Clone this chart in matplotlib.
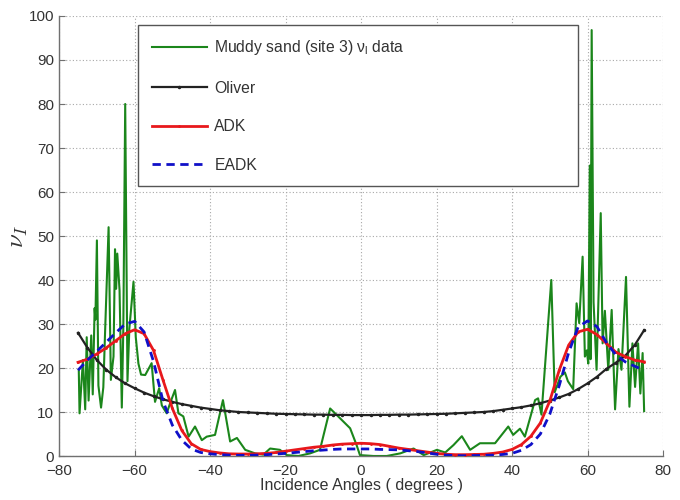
import matplotlib
matplotlib.use("Agg")
import matplotlib.pyplot as plt

plt.rcParams['font.family'] = ['Liberation Sans', 'DejaVu Sans']
plt.rcParams['mathtext.fontset'] = 'cm'

# ---- data ----
data_x = [-74.8, -74.6, -73.7, -73.1, -72.7, -72.2, -71.5, -71.1, -70.6, -70.4,
          -70.0, -69.6, -68.9, -68.3, -67.8, -66.9, -66.3, -65.6, -65.2, -64.9,
          -64.6, -64.0, -63.4, -63.0, -62.5, -61.9, -61.4, -60.3, -59.7, -59.0,
          -58.3, -57.2, -55.5, -54.6, -53.5, -52.8, -51.5, -50.6, -49.3, -48.4,
          -47.1, -45.7, -44.0, -42.2, -40.9, -38.7, -36.6, -34.7, -32.9, -30.7,
          -28.1, -25.9, -24.1, -21.5, -19.7, -16.6, -13.5, -10.9, -8.2, -5.6,
          -2.9, -1.2, -0.3, 3.3, 6.8, 10.4, 13.9, 16.6, 20.1, 22.3,
          24.5, 26.7, 28.9, 31.5, 35.5, 39.0, 40.3, 42.1, 43.4, 46.1,
          46.9, 47.8, 50.4, 51.3, 52.8, 54.0, 54.8, 56.2, 57.1, 57.8,
          58.7, 59.3, 59.8, 60.2, 60.6, 60.8, 61.1, 61.6, 62.4, 63.5,
          64.0, 64.6, 65.5, 66.4, 67.3, 68.2, 69.0, 70.2, 71.1, 71.9,
          72.6, 73.4, 74.0, 74.6, 75.0]
data_y = [19.5, 9.7, 21.8, 10.6, 27.0, 12.6, 27.4, 14.0, 33.6, 31.0,
          49.0, 16.0, 11.0, 15.6, 29.0, 52.0, 17.3, 22.6, 47.0, 38.0,
          46.0, 37.7, 11.0, 29.0, 80.0, 17.0, 29.0, 39.6, 27.0, 21.0,
          18.5, 18.4, 21.1, 12.3, 15.4, 11.5, 9.7, 12.0, 15.0, 9.7,
          9.0, 4.4, 6.7, 3.6, 4.4, 4.8, 12.7, 3.3, 4.1, 1.4,
          0.6, 0.3, 1.7, 1.4, 0.2, 0.0, 0.6, 1.4, 10.8, 8.6,
          6.3, 2.5, 0.2, 0.0, 0.0, 0.6, 1.7, 0.2, 1.4, 0.8,
          2.5, 4.5, 1.4, 2.9, 2.9, 6.7, 4.8, 6.2, 4.4, 12.7,
          13.1, 9.4, 40.0, 14.5, 18.0, 19.0, 17.0, 15.2, 34.7, 30.2,
          45.3, 22.6, 24.0, 21.0, 66.0, 22.0, 96.8, 35.0, 19.6, 55.2,
          25.6, 33.0, 19.6, 33.2, 10.6, 24.3, 19.6, 40.7, 11.2, 25.6,
          15.7, 25.6, 14.2, 23.4, 10.2]

model_x = [-75, -72.5, -70, -67.5, -65, -62.5, -60, -57.5, -55, -52.5, -50,
           -47.5, -45, -42.5, -40, -37.5, -35, -32.5, -30, -27.5, -25, -22.5,
           -20, -17.5, -15, -12.5, -10, -7.5, -5, -2.5, 0, 2.5, 5, 7.5, 10,
           12.5, 15, 17.5, 20, 22.5, 25, 27.5, 30, 32.5, 35, 37.5, 40, 42.5,
           45, 47.5, 50, 52.5, 55, 57.5, 60, 62.5, 65, 67.5, 70, 72.5, 75]
oliver_y = [28.0, 24.6, 21.8, 19.6, 17.9, 16.5, 15.4, 14.4, 13.6, 12.9, 12.3,
            11.8, 11.4, 11.0, 10.7, 10.4, 10.2, 10.0, 9.9, 9.8, 9.7, 9.6,
            9.55, 9.5, 9.45, 9.4, 9.4, 9.35, 9.35, 9.3, 9.3, 9.3, 9.35, 9.35, 9.4,
            9.4, 9.45, 9.5, 9.55, 9.6, 9.7, 9.8, 9.9, 10.0, 10.2, 10.5, 10.8, 11.1,
            11.5, 12.0, 12.6, 13.3, 14.1, 15.2, 16.5, 18.0, 19.8, 21.2, 22.8, 25.2, 28.6]
adk_y = [21.3, 22.0, 23.2, 24.6, 26.2, 27.8, 28.7, 27.8, 24.0, 17.3, 10.8,
         5.8, 2.8, 1.5, 1.0, 0.7, 0.5, 0.45, 0.45, 0.5, 0.6, 0.8,
         1.1, 1.4, 1.7, 2.0, 2.2, 2.5, 2.7, 2.8, 2.9, 2.8, 2.6, 2.2, 1.8,
         1.5, 1.2, 0.9, 0.6, 0.4, 0.3, 0.3, 0.35, 0.4, 0.6, 0.9, 1.5, 2.6,
         4.5, 7.5, 12.5, 19.5, 25.2, 28.2, 28.8, 27.6, 25.6, 23.6, 22.6, 21.8, 21.4]
eadk_y = [19.5, 21.8, 23.8, 25.9, 28.0, 30.0, 30.6, 28.2, 21.5, 12.5, 7.0,
          3.6, 1.6, 0.8, 0.5, 0.3, 0.2, 0.15, 0.15, 0.2, 0.3, 0.45,
          0.6, 0.8, 1.0, 1.2, 1.35, 1.5, 1.6, 1.6, 1.6, 1.6, 1.5, 1.45, 1.4,
          1.2, 1.0, 0.7, 0.4, 0.2, 0.1, 0.05, 0.1, 0.15, 0.2, 0.35, 0.6, 1.3,
          2.6, 5.0, 9.5, 16.0, 23.5, 29.3, 30.7, 29.4, 25.8, 23.0, 21.4, 20.4, 19.5]

xticks = [-80, -60, -40, -20, 0, 20, 40, 60, 80]
yticks = [0, 10, 20, 30, 40, 50, 60, 70, 80, 90, 100]

fig = plt.figure(figsize=(6.8, 5.0), dpi=100)
ax = fig.add_axes([0.087, 0.088, 0.888, 0.880])

ax.plot(data_x, data_y, color='#1b861b', lw=1.5, label='Muddy sand (site 3) $\\mathregular{\u03bd_l}$ data', zorder=2)
ax.plot(model_x, oliver_y, color='#222222', lw=1.6, marker='.', ms=3, label='Oliver', zorder=3)
ax.plot(model_x, adk_y, color='#e8181c', lw=2.0, marker='.', ms=2, label='ADK', zorder=4)
ax.plot(model_x, eadk_y, color='#1010c8', lw=2.0, ls=(0, (3, 2)), label='EADK', zorder=5)

ax.set_xlim(-80, 80)
ax.set_ylim(0, 100)
ax.set_xticks(xticks)
ax.set_yticks(yticks)
ax.set_xticklabels([str(t).replace('-', '\u2212') for t in xticks])
ax.grid(True, ls=(0, (1, 2)), color='#a8a8a8', lw=0.8)
for s in ['top', 'right']:
    ax.spines[s].set_visible(False)
for s in ['left', 'bottom']:
    ax.spines[s].set_color('#707070')
    ax.spines[s].set_linewidth(1.0)
ax.tick_params(direction='in', length=4, colors='#707070', labelcolor='#333333', labelsize=11)
ax.tick_params(axis='x', pad=6)

ax.set_xlabel('Incidence Angles ( degrees )', fontsize=11.5, color='#333333', labelpad=0)
ax.set_ylabel(r'$\nu_I$', fontsize=18, color='#333333')
ax.yaxis.set_label_coords(-0.048, 0.50)

leg = ax.legend(loc='upper left', bbox_to_anchor=(0.131, 0.618, 0.728, 0.362), mode='expand',
                fontsize=11.3, frameon=True, fancybox=False, edgecolor='#555555', framealpha=1,
                handlelength=3.5, handletextpad=0.5, labelspacing=1.5,
                borderpad=0.85, borderaxespad=0)
leg.get_frame().set_linewidth(1.0)
for t in leg.get_texts():
    t.set_color('#333333')

fig.savefig('out.png', dpi=100)
